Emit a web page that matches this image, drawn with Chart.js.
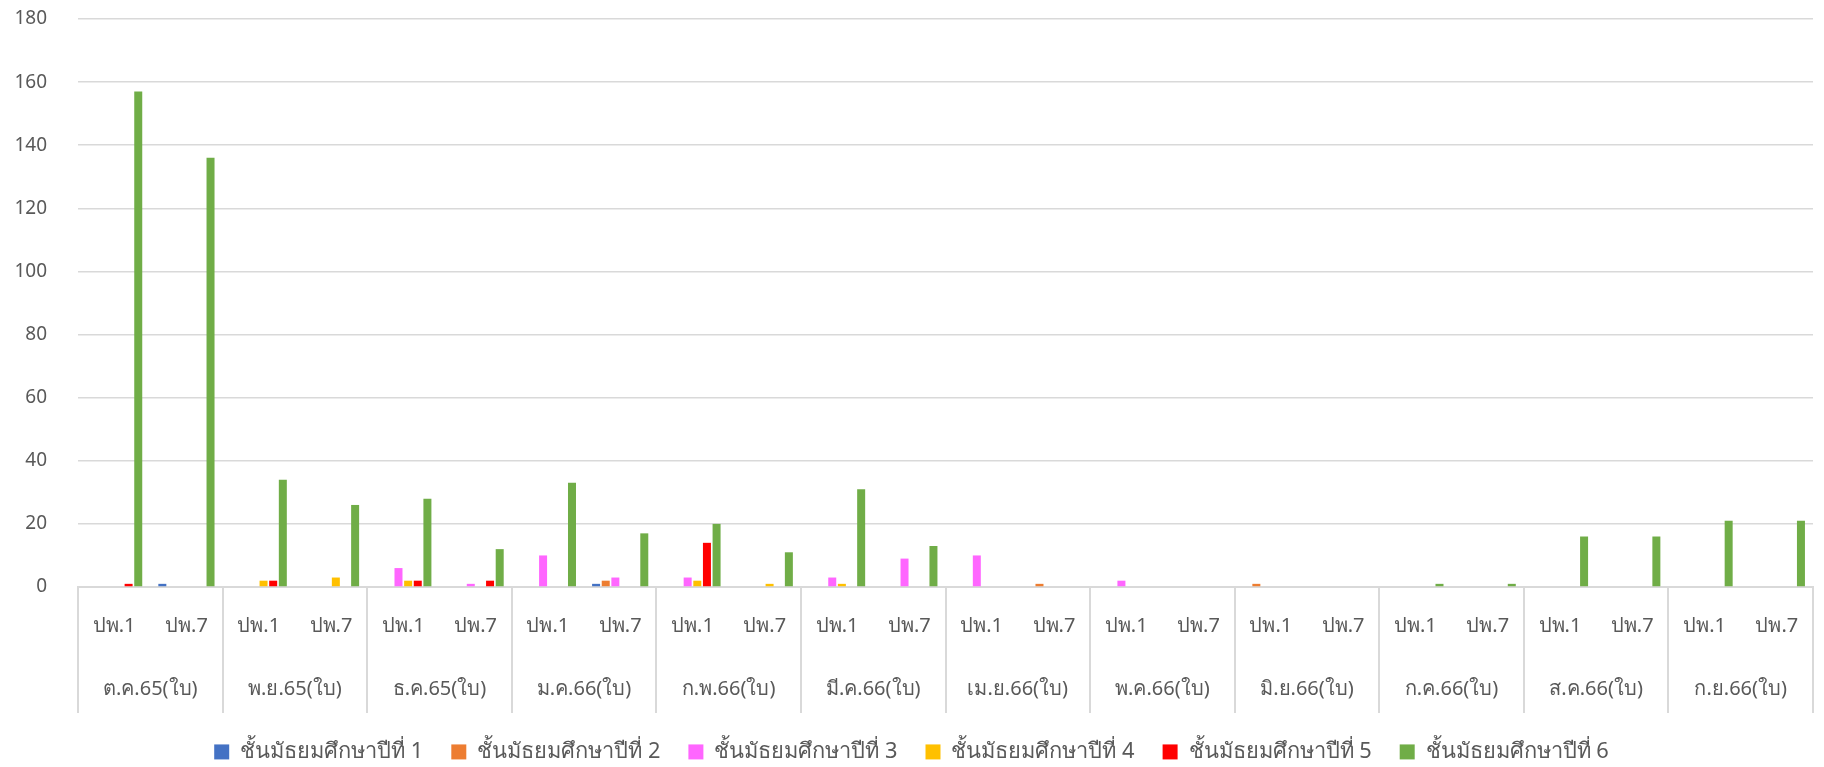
<!DOCTYPE html>
<html>
<head>
<meta charset="utf-8">
<script src="https://cdn.jsdelivr.net/npm/chart.js@4/dist/chart.umd.min.js"></script>
<style>
  html, body { margin: 0; padding: 0; background: #fff; }
  #wrap { width: 1824px; height: 767px; }
</style>
</head>
<body>
<div id="wrap"><canvas id="salesChart"></canvas></div>
<script>
const months = ['ต.ค.65(ใบ)', 'พ.ย.65(ใบ)', 'ธ.ค.65(ใบ)', 'ม.ค.66(ใบ)', 'ก.พ.66(ใบ)', 'มี.ค.66(ใบ)',
    'เม.ย.66(ใบ)', 'พ.ค.66(ใบ)', 'มิ.ย.66(ใบ)', 'ก.ค.66(ใบ)', 'ส.ค.66(ใบ)', 'ก.ย.66(ใบ)'];
const docTypes = ['ปพ.1', 'ปพ.7'];
const yTicks = [0, 20, 40, 60, 80, 100, 120, 140, 160, 180];

// each array: 12 months x (ปพ.1, ปพ.7)
const grade1 = [0, 1,  0, 0,  0, 0,  0, 1,  0, 0,  0, 0,  0, 0,  0, 0,  0, 0,  0, 0,  0, 0,  0, 0];
const grade2 = [0, 0,  0, 0,  0, 0,  0, 2,  0, 0,  0, 0,  0, 1,  0, 0,  1, 0,  0, 0,  0, 0,  0, 0];
const grade3 = [0, 0,  0, 0,  6, 1,  10, 3,  3, 0,  3, 9,  10, 0,  2, 0,  0, 0,  0, 0,  0, 0,  0, 0];
const grade4 = [0, 0,  2, 3,  2, 0,  0, 0,  2, 1,  1, 0,  0, 0,  0, 0,  0, 0,  0, 0,  0, 0,  0, 0];
const grade5 = [1, 0,  2, 0,  2, 2,  0, 0,  14, 0,  0, 0,  0, 0,  0, 0,  0, 0,  0, 0,  0, 0,  0, 0];
const grade6 = [157, 136,  34, 26,  28, 12,  33, 17,  20, 11,  31, 13,  0, 0,  0, 0,  0, 0,  1, 1,  16, 16,  21, 21];

const seriesNames = ['ชั้นมัธยมศึกษาปีที่ 1', 'ชั้นมัธยมศึกษาปีที่ 2', 'ชั้นมัธยมศึกษาปีที่ 3',
    'ชั้นมัธยมศึกษาปีที่ 4', 'ชั้นมัธยมศึกษาปีที่ 5', 'ชั้นมัธยมศึกษาปีที่ 6'];
const seriesColors = ['#4472C4', '#ED7D31', '#FF66FF', '#FFC000', '#FF0000', '#70AD47'];
const seriesData = [grade1, grade2, grade3, grade4, grade5, grade6];

const innerLabels = months.flatMap(() => docTypes);
const fontFamily = "'Noto Sans', 'DejaVu Sans', sans-serif";
const gridGrey = '#d9d9d9';
const textGrey = '#595959';

// vertical separators between month groups, spanning both label rows
const groupLines = {
    id: 'groupLines',
    beforeInit(chart) {
        // keep the legend band short so the plot gets the height
        const legend = chart.legend;
        if (!legend) return;
        const fit = legend.fit;
        legend.fit = function () {
            fit.call(this);
            this.height = 54;
        };
    },
    afterDraw(chart) {
        const x2 = chart.scales.x2;
        const ctx = chart.ctx;
        ctx.save();
        ctx.strokeStyle = gridGrey;
        ctx.lineWidth = 2;
        for (let i = 0; i <= months.length; i++) {
            const px = Math.round(x2.getPixelForValue(i - 0.5));
            ctx.beginPath();
            ctx.moveTo(px, chart.chartArea.bottom);
            ctx.lineTo(px, x2.bottom);
            ctx.stroke();
        }
        ctx.restore();
    }
};

const ctx = document.getElementById('salesChart').getContext('2d');
new Chart(ctx, {
    type: 'bar',
    data: {
        labels: innerLabels,
        datasets: seriesData.map((values, i) => ({
            label: seriesNames[i],
            data: values,
            backgroundColor: seriesColors[i],
            borderWidth: 0,
            categoryPercentage: 0.8,
            barPercentage: 0.83
        }))
    },
    options: {
        responsive: true,
        maintainAspectRatio: false,
        animation: false,
        layout: { padding: { top: 19, right: 11, left: 10, bottom: 0 } },
        plugins: {
            tooltip: { enabled: false },
            legend: {
                position: 'bottom',
                labels: {
                    color: textGrey,
                    font: { family: fontFamily, size: 21.85 },
                    boxWidth: 15,
                    boxHeight: 15,
                    padding: 28
                }
            }
        },
        scales: {
            x: {
                type: 'category',
                labels: innerLabels,
                grid: { display: false },
                border: { display: true, color: gridGrey, width: 2 },
                ticks: {
                    color: textGrey,
                    font: { family: fontFamily, size: 20 },
                    padding: 19,
                    maxRotation: 0,
                    autoSkip: false
                },
                afterFit(scale) { scale.height = 63; }
            },
            x2: {
                type: 'category',
                position: 'bottom',
                labels: months,
                offset: true,
                grid: { display: false },
                border: { display: false },
                ticks: {
                    color: textGrey,
                    font: { family: fontFamily, size: 20 },
                    padding: 19,
                    maxRotation: 0,
                    autoSkip: false
                },
                afterFit(scale) { scale.height = 63; }
            },
            y: {
                min: 0,
                max: 180,
                afterBuildTicks(scale) { scale.ticks = yTicks.map(v => ({ value: v })); },
                afterFit(scale) {
                    scale.width = 68;
                    scale.paddingTop = 12;
                    scale.paddingBottom = 12;
                },
                grid: { color: gridGrey, lineWidth: 1.5, drawTicks: false },
                border: { display: false },
                ticks: {
                    color: textGrey,
                    font: { family: fontFamily, size: 19 },
                    padding: 31
                }
            }
        }
    },
    plugins: [groupLines]
});
</script>
</body>
</html>
